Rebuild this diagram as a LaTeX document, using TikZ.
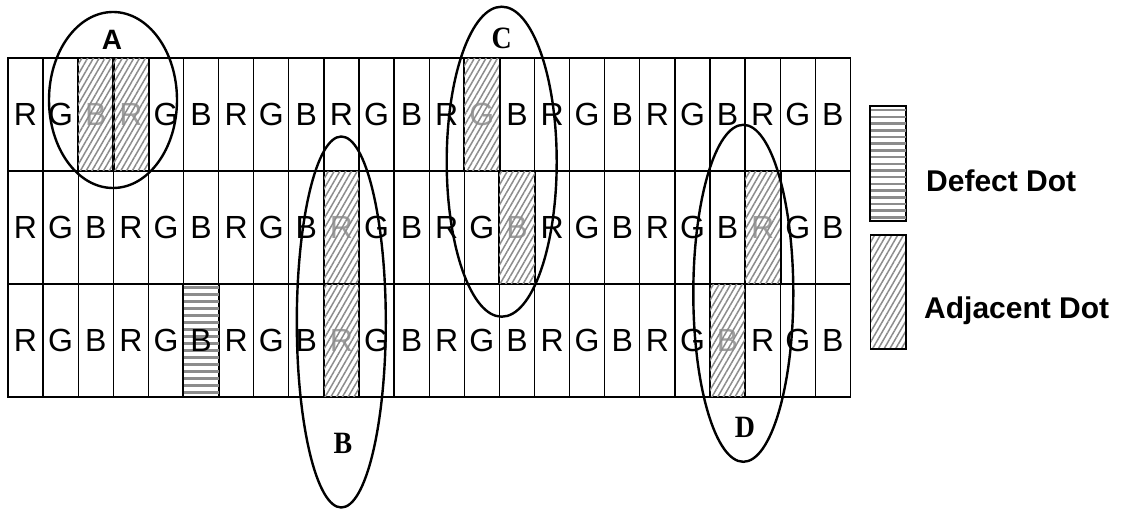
\documentclass[tikz,border=0pt]{standalone}
\usepackage{fontspec}
\newfontfamily\arialf{Liberation Sans}
\newfontfamily\timesf{Liberation Serif}
\usetikzlibrary{shapes.geometric,patterns.meta}
\begin{document}
\begin{tikzpicture}[x=1pt,y=-1pt,
  cell/.style={draw, line width=1.3pt, rectangle, minimum width=35.1pt, minimum height=113pt, inner sep=0pt, font=\arialf\fontsize{32}{32}\selectfont},
  celltext/.style={inner sep=0pt, font=\arialf\fontsize{32}{32}\selectfont},
  adjacent/.style={pattern={Lines[angle=60,distance=5pt,line width=1.5pt]}, pattern color=gray!90},
  stripe/.style={line width=2.5pt, draw=gray!90},
  ring/.style={ellipse, draw, line width=2.4pt, inner sep=0pt},
  lblsans/.style={inner sep=0pt, font=\arialf\bfseries\fontsize{28}{28}\selectfont},
  lblserif/.style={inner sep=0pt, xscale=0.9, font=\timesf\bfseries\fontsize{31}{31}\selectfont},
  legbox/.style={draw, line width=1.5pt, rectangle, minimum width=35.3pt, minimum height=114pt, inner sep=0pt},
  legtext/.style={inner sep=0pt, font=\arialf\bfseries\fontsize{30}{30}\selectfont}
]
\useasboundingbox (0,0) rectangle (1123,510);
\fill[white] (0,0) rectangle (1123,510);

% cells that are marked (their letters are drawn separately)
\foreach \r/\i in {1/2,1/3,1/13,2/9,2/14,2/21,3/9,3/20,3/5}{
  \expandafter\gdef\csname mark-\r-\i\endcsname{}
}

% grid of dots
\foreach \r in {1,2,3}{
  \foreach \i in {0,...,23}{
    \pgfmathtruncatemacro\m{mod(\i,3)}
    \ifcsname mark-\r-\i\endcsname
      \node[cell] (c-\r-\i) at ({8+35.1*(\i+0.5)},{58+113*(\r-0.5)}) {};
    \else
      \node[cell] (c-\r-\i) at ({8+35.1*(\i+0.5)},{58+113*(\r-0.5)}) {\ifcase\m R\or G\or B\fi};
    \fi
  }
}

% adjacent dots
\foreach \r/\i in {1/2,1/3,1/13,2/9,2/14,2/21,3/9,3/20}{
  \pgfmathtruncatemacro\m{mod(\i,3)}
  \node[celltext, text=gray!75] (h-\r-\i) at (c-\r-\i.center) {\ifcase\m R\or G\or B\fi};
  \fill[adjacent] (c-\r-\i.south west) rectangle (c-\r-\i.north east);
  \draw[line width=1.3pt] (c-\r-\i.south west) rectangle (c-\r-\i.north east);
}

% defect dot
\begin{scope}
  \clip (c-3-5.south west) rectangle (c-3-5.north east);
  \foreach \k in {0,...,16}{
    \pgfmathsetmacro\yy{284+3.5+7*\k}
    \draw[stripe] (c-3-5.west |- 0,\yy) -- (c-3-5.east |- 0,\yy);
  }
\end{scope}
\node[celltext] (d-3-5) at (c-3-5.center) {B};
\draw[line width=1.3pt] (c-3-5.south west) rectangle (c-3-5.north east);

% ellipses
\node[ring, minimum width=128pt, minimum height=176pt] (eA) at (113,100) {};
\node[ring, minimum width=89pt, minimum height=371pt] (eB) at (341.3,322) {};
\node[ring, minimum width=110pt, minimum height=310pt] (eC) at (501.7,161.7) {};
\node[ring, minimum width=100pt, minimum height=337pt] (eD) at (743.3,293.3) {};

% ellipse labels
\node[lblsans] (lA) at (112,40) {A};
\node[lblserif] (lB) at (343,443) {B};
\node[lblserif] (lC) at (501.7,38.5) {C};
\node[lblserif] (lD) at (745,427) {D};

% legend
\node[legbox] (legD) at (888.3,163.7) {};
\begin{scope}
  \clip (legD.south west) rectangle (legD.north east);
  \foreach \k in {0,...,16}{
    \pgfmathsetmacro\yy{106.7+3.5+6.7*\k}
    \draw[stripe] (legD.west |- 0,\yy) -- (legD.east |- 0,\yy);
  }
\end{scope}
\draw[line width=1.5pt] (legD.south west) rectangle (legD.north east);
\node[legbox, adjacent] (legA) at (888.3,292.2) {};
\node[legtext, anchor=base west] (tD) at (926,191.5) {Defect Dot};
\node[legtext, anchor=base west] (tA) at (924,318.5) {Adjacent Dot};
\end{tikzpicture}
\end{document}
